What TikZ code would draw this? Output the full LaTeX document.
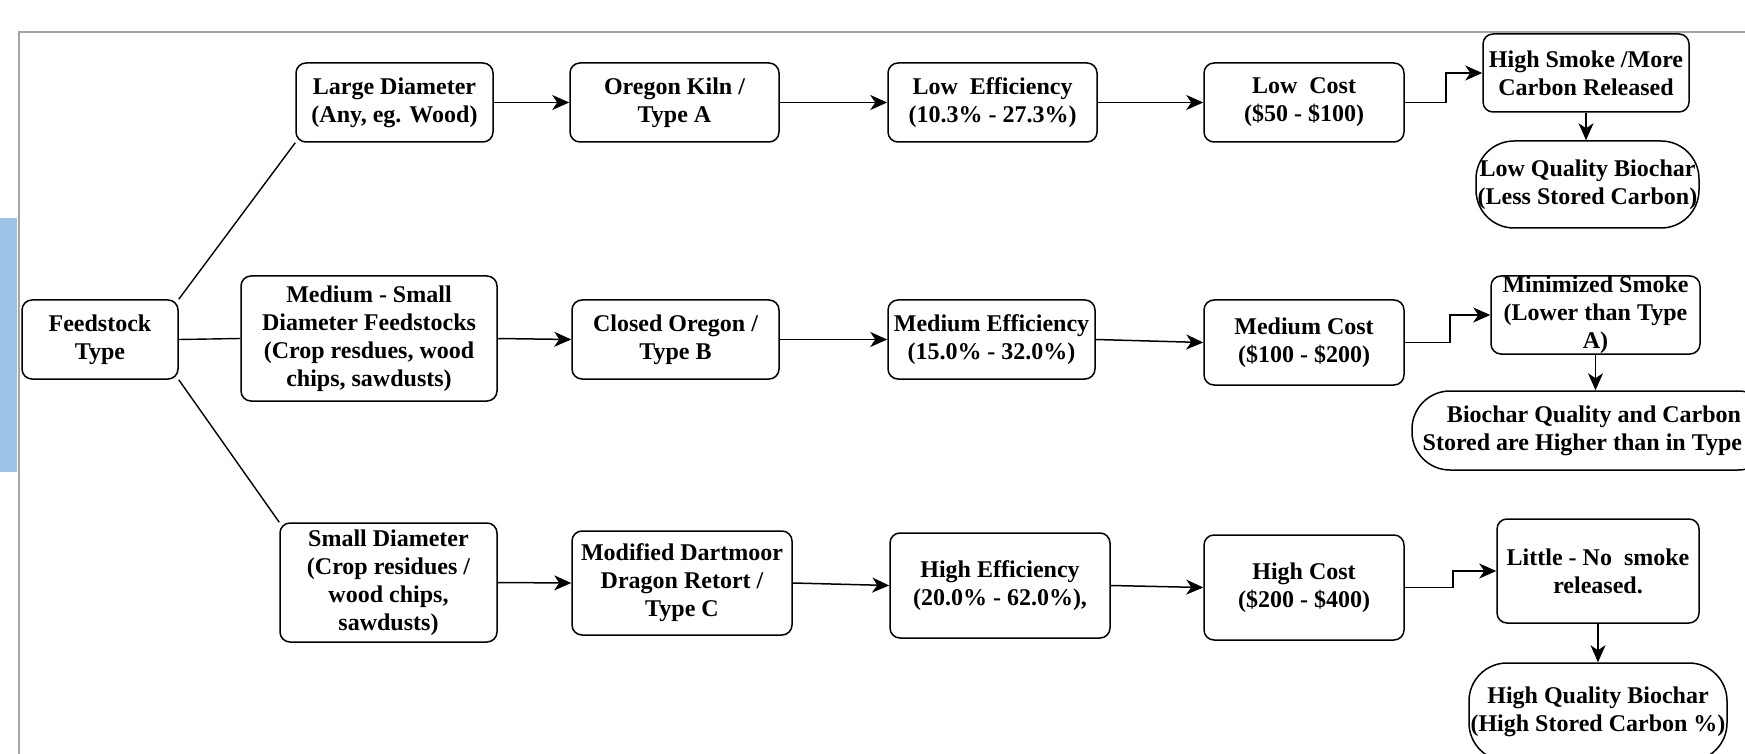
\documentclass[tikz,border=0pt]{standalone}
\usepackage{fontspec}
\setmainfont{Liberation Serif}
\usetikzlibrary{arrows.meta}
\definecolor{framegray}{RGB}{166,166,166}
\definecolor{sideblue}{RGB}{157,195,230}
\begin{document}
\begin{tikzpicture}[x=0.5pt,y=-0.5pt,
  lbl/.style={align=center, inner sep=0pt, font=\bfseries\fontsize{12}{14}\selectfont},
  box/.style={lbl, draw, line width=0.75pt, rounded corners=5pt},
  pill/.style={draw, line width=0.75pt, rounded corners=19pt, inner sep=0pt},
  link/.style={line width=0.7pt},
  arr/.style={line width=0.75pt, -{Stealth[length=8.5pt,width=7.5pt,inset=2.5pt]}},
  sz/.style 2 args={minimum width=#1*0.5pt, minimum height=#2*0.5pt}]
\useasboundingbox (0,0) rectangle (1745,754);
\clip (0,0) rectangle (1745,754);
% frame and side bar
\fill[sideblue] (0,218) rectangle (17,472);
\draw[framegray, line width=0.6pt] (19,760) -- (19,32) -- (1750,32);

% column 1
\node[box, sz={156}{79}] (feed) at (100,339.5) {Feedstock\\Type};
% column 2
\node[box, sz={197}{79}] (large) at (394.5,102.5) {Large Diameter\\(Any, eg. Wood)};
\node[box, sz={256}{125}] (medium) at (369,338.5) {Medium - Small\\Diameter Feedstocks\\(Crop resdues, wood\\chips, sawdusts)};
\node[box, sz={217}{119}] (small) at (388.5,582.5) {Small Diameter\\(Crop residues /\\wood chips,\\sawdusts)};
% column 3
\node[box, sz={209}{79}] (oregon) at (674.5,102.5) {Oregon Kiln /\\Type A};
\node[box, sz={207}{79}] (closed) at (675.5,339.5) {Closed Oregon /\\Type B};
\node[box, sz={220}{104}] (modified) at (682,583) {Modified Dartmoor\\Dragon Retort /\\Type C};
% column 4
\node[box, sz={209}{79}] (loweff) at (992.5,102.5) {Low~ Efficiency\\(10.3\% - 27.3\%)};
\node[box, sz={207}{79}] (medeff) at (991.5,339.5) {Medium Efficiency\\(15.0\% - 32.0\%)};
\node[box, sz={220}{105}] (higheff) at (1000,585.5) {High Efficiency\\(20.0\% - 62.0\%),};
% column 5
\node[box, sz={200}{79}] (lowcost) at (1304,102.5) {Low~ Cost\\(\$50 - \$100)};
\node[box, sz={200}{85}] (medcost) at (1304,342.5) {Medium Cost\\(\$100 - \$200)};
\node[box, sz={200}{105}] (highcost) at (1304,587.5) {High Cost\\(\$200 - \$400)};
% column 6
\node[box, sz={206}{78}] (highsmoke) at (1586,73) {High Smoke /More\\Carbon Released};
\node[pill, sz={223}{87}] (lowqual) at (1587.5,184.5) {};
\node[lbl] at (lowqual.center) {Low Quality Biochar\\(Less Stored Carbon)};
\node[box, sz={209}{78}] (minimized) at (1595.5,315) {};
\node[lbl] at (minimized.center) {Minimized Smoke\\(Lower than Type\\A)};
\node[pill, sz={364}{79}] (biocharq) at (1594,430.5) {};
\node[lbl] at (biocharq.center) {Biochar Quality and Carbon\\Stored are Higher than in Type A};
\node[box, sz={202}{104}] (little) at (1598,571) {Little - No~ smoke\\released.};
\node[pill, sz={258}{98}] (highqual) at (1598,712) {};
\node[lbl] at (highqual.center) {High Quality Biochar\\(High Stored Carbon \%)};

% connectors
\draw[link] (feed.north east) -- (large.south west);
\draw[link] (feed.east) -- (medium.west);
\draw[link] (feed.south east) -- (small.north west);
\draw[arr] (large) -- (oregon);
\draw[arr] (medium.east) -- (closed.west);
\draw[arr] (small.east) -- (modified.west);
\draw[arr] (oregon) -- (loweff);
\draw[arr] (closed) -- (medeff);
\draw[arr] (modified.east) -- (higheff.west);
\draw[arr] (loweff) -- (lowcost);
\draw[arr] (medeff.east) -- (medcost.west);
\draw[arr] (higheff.east) -- (highcost.west);
\draw[arr] (lowcost.east) -- ++(41,0) |- (highsmoke.west);
\draw[arr] (medcost.east) -- ++(45,0) |- (minimized.west);
\draw[arr] (highcost.east) -- ++(48,0) |- (little.west);
\draw[arr] (highsmoke.south) -- (highsmoke.south |- lowqual.north);
\draw[arr] (minimized.south) -- (minimized.south |- biocharq.north);
\draw[arr] (little.south) -- (little.south |- highqual.north);
\end{tikzpicture}
\end{document}
